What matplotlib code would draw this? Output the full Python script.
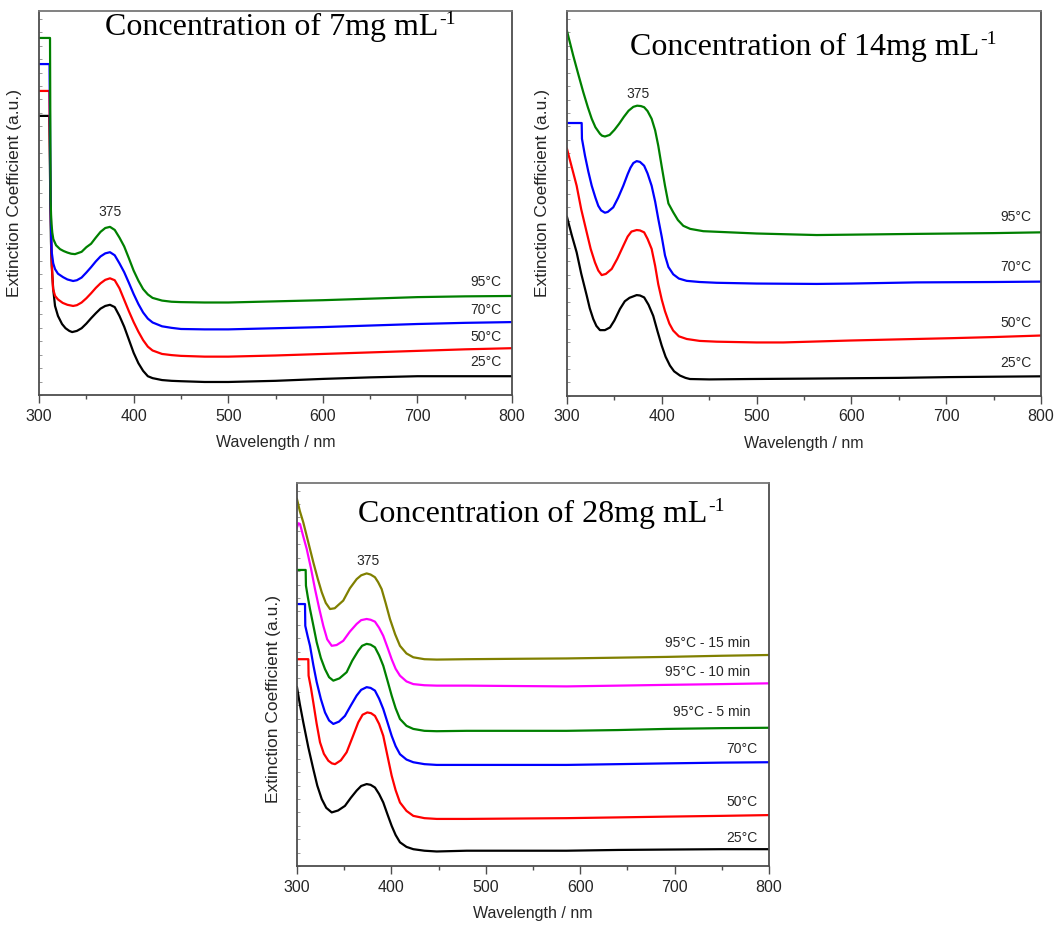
#!/usr/bin/env python3
"""Extinction spectra of three concentrations at several temperatures."""

import matplotlib

matplotlib.use("Agg")
import matplotlib.pyplot as plt
from matplotlib.ticker import MultipleLocator

# ---- 7 mg/mL -------------------------------------------------------------
c7_labels = ["25°C", "50°C", "70°C", "95°C"]
c7_colors = ["black", "red", "blue", "#008000"]

c7_25_nm = [300, 310.9, 311.9, 312.6, 313.4, 315, 316.9, 320, 324.3, 328, 332, 335,
            340, 345, 350, 355, 360, 365, 370, 375, 380, 385, 390, 395, 400, 405, 410, 415, 420,
            430, 440, 450, 475, 500, 550, 600, 650, 700, 750, 800]
c7_25_ext = [72.7, 72.7, 51.0, 40.0, 33.6, 27.5, 23.2, 20.6, 18.5, 17.4, 16.7, 16.4,
             16.7, 17.4, 18.6, 20.0, 21.3, 22.5, 23.2, 23.5, 22.9, 20.6, 17.8, 14.4, 11.0, 8.3,
             6.3, 4.9, 4.4, 3.9, 3.7, 3.6, 3.4, 3.4, 3.7, 4.2, 4.6, 4.9, 4.9, 4.9]

c7_50_nm = [300, 310.9, 311.9, 312.6, 313.2, 314.0, 314.8, 317, 320, 325, 330, 336,
            340, 345, 350, 355, 360, 365, 370, 375, 380, 385, 390, 395, 400, 405, 410, 415, 420,
            430, 440, 450, 475, 500, 550, 600, 650, 700, 750, 800]
c7_50_ext = [79.2, 79.2, 55.0, 45.0, 37.0, 31.5, 27.6, 25.8, 24.9, 24.0, 23.5, 23.2,
             23.4, 24.1, 25.2, 26.5, 27.9, 29.1, 30.0, 30.4, 29.9, 27.8, 24.8, 21.8, 19.0, 16.5,
             14.3, 12.6, 11.6, 10.7, 10.4, 10.2, 10.0, 10.0, 10.3, 10.7, 11.1, 11.5, 11.9, 12.2]

c7_70_nm = [300, 311.1, 312.2, 312.8, 313.4, 315, 316.9, 320, 325.4, 330, 336,
            340, 345, 350, 355, 360, 365, 370, 375, 380, 385, 390, 395, 400, 405, 410, 415, 420,
            430, 440, 450, 475, 500, 550, 600, 650, 700, 750, 800]
c7_70_ext = [86.2, 86.2, 51.0, 42.0, 37.2, 34.3, 32.8, 31.6, 30.7, 30.1, 29.7,
             29.9, 30.6, 31.9, 33.3, 34.8, 36.1, 36.9, 37.2, 36.4, 34.3, 32.0, 29.2, 26.3, 23.7,
             21.5, 19.9, 18.9, 17.9, 17.5, 17.2, 17.1, 17.1, 17.4, 17.7, 18.1, 18.5, 18.8, 19.0]

c7_95_nm = [300, 311.6, 312.2, 312.7, 313.2, 314.0, 315.1, 318, 322.2, 326, 330, 334, 338,
            345, 350, 355, 360, 365, 370, 375, 380, 385, 390, 395, 400, 405, 410, 415, 420,
            430, 440, 450, 475, 500, 550, 600, 650, 700, 750, 800]
c7_95_ext = [93.0, 93.0, 51.0, 47.0, 44.5, 42.3, 40.6, 39.0, 38.0, 37.5, 37.1, 36.8, 36.7,
             37.3, 38.5, 39.4, 41.0, 42.5, 43.5, 43.8, 43.0, 41.0, 38.7, 35.6, 32.4, 29.8,
             27.6, 26.2, 25.3, 24.6, 24.3, 24.2, 24.1, 24.1, 24.4, 24.7, 25.1, 25.5, 25.7, 25.8]

# ---- 14 mg/mL ------------------------------------------------------------
c14_labels = ["25°C", "50°C", "70°C", "95°C"]
c14_colors = ["black", "red", "blue", "#008000"]

c14_25_nm = [300, 305, 310.2, 315, 320.8, 324, 327.7, 331, 334.8, 340, 345.4, 350, 355.9,
             361, 366, 373.5, 377, 381.4, 386, 391, 395.5, 399.9, 404, 408.6, 413, 419.2,
             425, 429.7, 450, 493, 550, 598.5, 650, 704, 750, 800]
c14_25_ext = [46.5, 41.8, 37.3, 31.8, 26.1, 22.8, 20.0, 18.2, 17.1, 17.1, 17.8, 19.6, 22.6,
              24.6, 25.5, 26.2, 26.1, 25.6, 23.7, 20.8, 16.8, 13.1, 10.2, 7.9, 6.4, 5.3,
              4.7, 4.4, 4.3, 4.4, 4.5, 4.6, 4.7, 4.9, 5.0, 5.1]

c14_50_nm = [300, 305, 310.2, 315, 320.8, 325, 329.5, 333, 336.6, 341, 347.2, 353, 359.4,
             364, 368, 373.5, 377, 381.4, 385, 389.3, 393, 396.3, 400, 403.4, 408, 412,
             418, 426.3, 440, 457.9, 500, 528.2, 598.5, 650, 704, 750, 800]
c14_50_ext = [64.2, 59.5, 54.6, 48.5, 42.5, 38.2, 34.7, 32.6, 31.4, 31.7, 33.0, 35.6, 39.0,
              41.4, 42.7, 43.1, 43.0, 42.5, 40.8, 38.2, 33.8, 29.0, 25.0, 22.0, 18.8, 17.0,
              15.5, 14.8, 14.3, 14.1, 13.9, 13.9, 14.4, 14.7, 15.0, 15.3, 15.7]

c14_70_nm = [300, 315.5, 315.8, 319.0, 322.5, 326.1, 330, 333.0, 336, 340, 343, 348.8, 354,
             359.4, 364, 367, 370, 373.5, 377, 381.4, 385, 389.3, 393, 396.3, 400, 403.4,
             407, 412.1, 418, 426.3, 440, 457.9, 500, 563.4, 600, 668.9, 750, 800]
c14_70_ext = [70.9, 70.9, 66.8, 62.4, 58.3, 54.6, 51.5, 49.4, 48.2, 47.6, 47.8, 49.0, 51.5,
              54.6, 57.6, 59.3, 60.5, 61.0, 60.8, 59.8, 57.8, 54.6, 50.5, 46.0, 41.3, 36.5,
              33.5, 31.6, 30.5, 29.9, 29.6, 29.4, 29.2, 29.1, 29.2, 29.5, 29.6, 29.7]

c14_95_nm = [300, 306.6, 312, 317.2, 322, 326.1, 330, 334.8, 337, 340.1, 345, 350, 355, 360,
             365, 370, 374, 378, 381.4, 385, 389.3, 393, 396.3, 400, 403.4, 407, 412.1, 417,
             422.7, 430, 443.8, 471.9, 500, 563.4, 600, 668.9, 750, 800]
c14_95_ext = [94.8, 88.4, 83.5, 78.9, 75.0, 72.0, 69.8, 68.1, 67.6, 67.4, 67.8, 69.1, 70.7,
              72.5, 74.1, 75.1, 75.4, 75.3, 75.0, 74.0, 72.0, 69.0, 65.0, 59.5, 54.6, 50.0,
              47.7, 45.7, 44.2, 43.4, 42.8, 42.5, 42.2, 41.8, 41.9, 42.1, 42.3, 42.5]

# ---- 28 mg/mL ------------------------------------------------------------
c28_labels = ["25°C", "50°C", "70°C", "95°C - 5 min", "95°C - 10 min", "95°C - 15 min"]
c28_colors = ["black", "red", "blue", "#008000", "magenta", "#808000"]

c28_25_nm = [300, 303, 306.7, 312, 317.3, 321.5, 326.2, 331, 336.8, 343.5, 350.8, 357, 363.2,
             368, 373.8, 378, 382.6, 387, 391.4, 396, 400.3, 404.5, 409.1, 416, 423.2, 435,
             448, 479.8, 585.7, 640, 691.6, 750, 800]
c28_25_ext = [46.7, 42.3, 37.5, 31.0, 25.3, 21.0, 17.5, 15.2, 14.0, 14.5, 15.7, 17.8, 19.7,
              20.9, 21.4, 21.2, 20.5, 18.8, 16.6, 13.4, 10.5, 8.1, 6.2, 5.0, 4.4, 4.0,
              3.8, 4.0, 4.0, 4.2, 4.3, 4.4, 4.4]

c28_50_nm = [300, 312.0, 312.3, 314.8, 317.3, 320.8, 324.4, 328.5, 333.2, 337, 340.3, 346.5,
             352.6, 358.8, 364.9, 369.5, 374.5, 378.5, 382.6, 387, 391.4, 396, 400.3, 404.5,
             409.1, 416, 423.2, 435, 448, 479.8, 585.7, 640, 691.6, 750, 800]
c28_50_ext = [54.0, 54.0, 49.7, 46.5, 42.7, 37.2, 32.3, 29.3, 27.5, 26.8, 26.6, 27.6,
              29.7, 33.6, 37.5, 39.5, 40.1, 39.9, 39.2, 37.1, 34.0, 28.6, 23.6, 19.8,
              16.6, 14.4, 13.1, 12.5, 12.3, 12.3, 12.5, 12.7, 12.9, 13.1, 13.3]

c28_70_nm = [300, 308.5, 308.8, 311.3, 313.8, 317.3, 320.9, 325.3, 329.7, 334, 338.5, 344.5,
             350.8, 357, 363.2, 368, 373.8, 378, 382.6, 387, 391.4, 396, 400.3, 404.5,
             409.1, 416, 423.2, 435, 448, 479.8, 585.7, 640, 691.6, 750, 800]
c28_70_ext = [68.4, 68.4, 62.7, 60.0, 57.5, 52.5, 48.0, 43.6, 40.1, 38.0, 37.1, 37.7,
              39.2, 41.9, 44.5, 46.0, 46.7, 46.5, 45.8, 43.7, 41.0, 37.4, 34.0, 31.3,
              29.2, 27.8, 27.1, 26.6, 26.4, 26.4, 26.4, 26.6, 26.8, 27.0, 27.1]

c28_95_5_nm = [300, 309.2, 309.5, 311.5, 313.8, 317.5, 320.9, 325.3, 329.7, 334, 338.5, 345,
               352.6, 358.5, 364.9, 369, 373.8, 378, 382.6, 387, 391.4, 396, 400.3, 404.5,
               409.1, 416, 423.2, 435, 448, 479.8, 585.7, 640, 691.6, 750, 800]
c28_95_5_ext = [77.3, 77.3, 73.2, 70.2, 67.1, 62.6, 58.4, 54.3, 51.4, 49.3, 48.4, 49.0,
                50.6, 53.6, 56.2, 57.5, 58.0, 57.8, 57.1, 55.0, 52.3, 48.3, 44.5, 41.2,
                38.4, 36.6, 35.8, 35.3, 35.2, 35.3, 35.3, 35.5, 35.8, 36.0, 36.1]

c28_95_10_nm = [300, 301.5, 303.2, 306.5, 310.3, 315, 319.1, 323.5, 327.9, 332, 336.8, 342,
                349, 356, 363.2, 368, 373.8, 378, 382.6, 387, 391.4, 396, 400.3, 404.5,
                409.1, 416, 423.2, 435, 448, 479.8, 530, 585.7, 640, 691.6, 750, 800]
c28_95_10_ext = [88.4, 89.5, 89.3, 86.2, 82.8, 77.5, 72.3, 67.3, 62.7, 59.2, 57.5, 57.7,
                 58.8, 61.2, 63.2, 64.2, 64.5, 64.3, 63.8, 62.2, 60.1, 57.0, 54.0, 51.5,
                 49.7, 48.2, 47.5, 47.2, 47.1, 47.1, 47.0, 46.9, 47.1, 47.3, 47.5, 47.7]

c28_95_15_nm = [300, 303, 306.7, 312, 317.3, 322, 326.2, 330.5, 335, 340, 344, 349, 356,
                363.2, 368, 373.8, 378, 382.6, 386, 389.7, 394, 398.5, 404, 409.1, 416,
                423.2, 435, 448, 479.8, 530, 585.7, 640, 691.6, 750, 800]
c28_95_15_ext = [95.8, 92.7, 89.7, 84.5, 79.3, 75.0, 71.5, 68.7, 67.1, 67.3, 68.2, 69.3, 72.5,
                 74.9, 75.9, 76.4, 76.1, 75.4, 74.1, 72.3, 68.6, 64.5, 60.5, 57.5, 55.5,
                 54.5, 54.0, 53.9, 54.0, 54.1, 54.2, 54.4, 54.6, 54.9, 55.1]

SPINE = "#4d4d4d"
TEXT = "#262626"


def _style_axis(ax):
    ax.set_xlim(300, 800)
    ax.set_ylim(0, 100)
    ax.xaxis.set_major_locator(MultipleLocator(100))
    ax.xaxis.set_minor_locator(MultipleLocator(50))
    ax.yaxis.set_major_locator(MultipleLocator(3.5))
    ax.tick_params(axis="x", which="major", direction="out", length=5.5, width=1.0,
                   pad=3.5, labelsize=11.5, colors=SPINE, labelcolor=TEXT)
    ax.tick_params(axis="x", which="minor", direction="out", length=3, width=1.0, colors=SPINE)
    ax.tick_params(axis="y", which="major", direction="in", length=2, width=0.6,
                   colors="#888888", labelleft=False)
    for side, spine in ax.spines.items():
        spine.set_color(SPINE if side != "top" else "#777777")
        spine.set_linewidth(1.3)
    ax.set_xlabel("Wavelength / nm", fontsize=11.5, labelpad=8, color=TEXT)
    ax.set_ylabel("Extinction Coefficient (a.u.)", fontsize=12.5, color=TEXT)


def _title(ax, text, x, y):
    main = ax.text(x, y, text, transform=ax.transAxes, ha="left", va="baseline",
                   fontsize=23, family="Liberation Serif", color="black")
    ax.annotate("-1", xy=(1.0, 1.0), xycoords=main, xytext=(0.5, 1.5),
                textcoords="offset points", ha="left", va="top", fontsize=14,
                family="Liberation Serif", color="black")


def _draw(ax, curves, colors, labels, label_x, label_y, peak_xy):
    for (nm, ext), color in zip(curves, colors):
        ax.plot(nm, ext, color=color, linewidth=1.6, solid_joinstyle="round")
    for text, lx, y in zip(labels, label_x, label_y):
        ax.text(lx, y, text, ha="right", va="center", fontsize=10, color=TEXT)
    ax.text(peak_xy[0], peak_xy[1], "375", ha="center", va="center", fontsize=10, color=TEXT)
    _style_axis(ax)


def main():
    plt.rcParams["font.family"] = ["Liberation Sans", "DejaVu Sans"]
    fig = plt.figure(figsize=(10.58, 9.29), dpi=100)

    ax7 = fig.add_axes([0.0369, 0.5737, 0.4471, 0.4133])
    ax14 = fig.add_axes([0.5359, 0.5727, 0.4480, 0.4144])
    ax28 = fig.add_axes([0.2807, 0.0667, 0.4461, 0.4123])

    _draw(ax7,
          [(c7_25_nm, c7_25_ext), (c7_50_nm, c7_50_ext), (c7_70_nm, c7_70_ext),
           (c7_95_nm, c7_95_ext)],
          c7_colors, c7_labels, [789] * 4, [8.9, 15.4, 22.4, 29.7], (375, 47.9))
    _draw(ax14,
          [(c14_25_nm, c14_25_ext), (c14_50_nm, c14_50_ext), (c14_70_nm, c14_70_ext),
           (c14_95_nm, c14_95_ext)],
          c14_colors, c14_labels, [790] * 4, [8.8, 19.2, 33.8, 46.8], (375, 78.7))
    _draw(ax28,
          [(c28_25_nm, c28_25_ext), (c28_50_nm, c28_50_ext), (c28_70_nm, c28_70_ext),
           (c28_95_5_nm, c28_95_5_ext), (c28_95_10_nm, c28_95_10_ext),
           (c28_95_15_nm, c28_95_15_ext)],
          c28_colors, c28_labels, [788, 788, 788, 780, 780, 780],
          [7.6, 17.0, 30.8, 40.5, 50.9, 58.5], (375, 79.9))

    _title(ax7, "Concentration of 7mg mL", 0.140, 0.940)
    _title(ax14, "Concentration of 14mg mL", 0.133, 0.888)
    _title(ax28, "Concentration of 28mg mL", 0.129, 0.901)

    ax7.yaxis.set_label_coords(-0.036, 0.53)
    ax14.yaxis.set_label_coords(-0.036, 0.53)
    ax28.yaxis.set_label_coords(-0.034, 0.44)

    fig.savefig("out.png", dpi=100)
    plt.close(fig)


if __name__ == "__main__":
    main()
